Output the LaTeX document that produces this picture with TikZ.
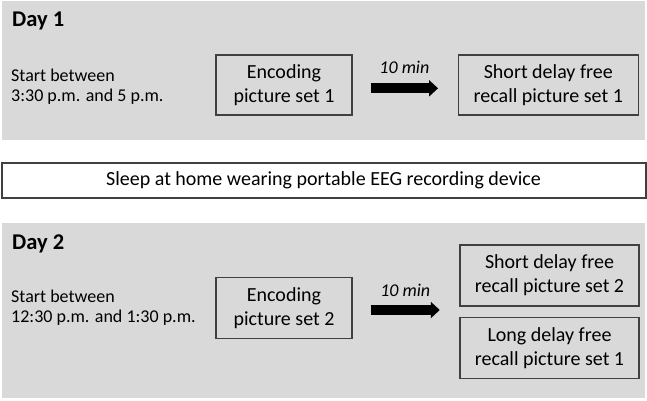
\documentclass[tikz,border=0pt]{standalone}
\usepackage{fontspec}
\setmainfont{Carlito}
\usetikzlibrary{calc,arrows.meta}

\definecolor{panelgray}{HTML}{D9D9D9}
\definecolor{boxline}{HTML}{404040}

\tikzset{
	panel/.style={fill=panelgray, draw=none},
	stagebox/.style={draw=boxline, line width=1.5pt, align=center, inner sep=0pt,
		font=\fontsize{20}{24}\selectfont},
	daylabel/.style={anchor=base west, inner sep=0pt, font=\fontsize{22.5}{27}\selectfont\bfseries},
	starttext/.style={anchor=west, align=left, inner sep=0pt, font=\fontsize{18}{20}\selectfont},
	bigarrow/.style={line width=10pt, -{Triangle[length=9pt,width=16pt]}},
	waitlabel/.style={font=\fontsize{18}{21}\selectfont\itshape, inner sep=0pt}
}

\begin{document}
\begin{tikzpicture}[x=1pt, y=-1pt]
			%%%%% START %%%%%
			\useasboundingbox (0, 0) rectangle (647, 400);
			\fill[white] (0, 0) rectangle (647, 400);
			
			% day 1
			\fill[panel] (2, 1) rectangle (645, 140);
			\node[daylabel] (day1) at (12, 26.7) {Day 1};
			\node[starttext] (start1) at (11, 87) {Start between\\3:30 p.m. and 5 p.m.};
			\node[stagebox, minimum width=136pt, minimum height=60pt] (enc1) at (284, 85) {Encoding\\picture set 1};
			\node[stagebox, minimum width=180pt, minimum height=60pt] (rec1) at (548.3, 85) {Short delay free\\recall picture set 1};
			\draw[bigarrow] ($(enc1.east)+(18, 3.3)$) -- node[waitlabel, yshift=21pt] (wait1) {10 min} ($(rec1.west)+(-19.5, 3.3)$);
			
			% night
			\node[stagebox, fill=white, line width=2pt, minimum width=644pt, minimum height=35pt] (sleep) at (323.5, 180.5) {Sleep at home wearing portable EEG recording device};
			
			% day 2
			\fill[panel] (2, 223) rectangle (645, 398);
			\node[daylabel] (day2) at (12, 249.3) {Day 2};
			\node[starttext] (start2) at (11, 308) {Start between\\12:30 p.m. and 1:30 p.m.};
			\node[stagebox, minimum width=136pt, minimum height=61pt] (enc2) at (284, 308) {Encoding\\picture set 2};
			\node[stagebox, minimum width=179pt, minimum height=61pt] (rec2) at (549.5, 275.5) {Short delay free\\recall picture set 2};
			\node[stagebox, minimum width=179pt, minimum height=61pt] (rec3) at (549.5, 347.8) {Long delay free\\recall picture set 1};
			\draw[bigarrow] ($(enc2.east)+(18, 2)$) -- node[waitlabel, yshift=19.5pt] (wait2) {10 min} ($(enc2.east)+(87, 2)$);
			%%%%% END %%%%%
\end{tikzpicture}
\end{document}
